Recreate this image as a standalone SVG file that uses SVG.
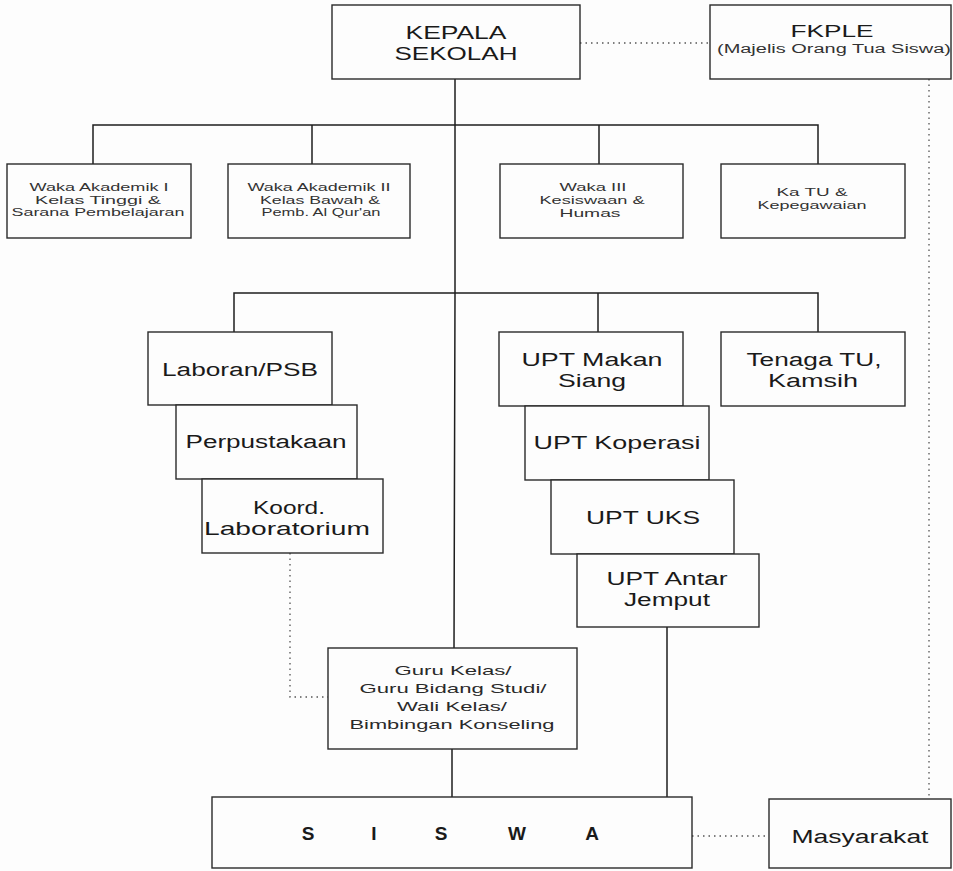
<svg xmlns="http://www.w3.org/2000/svg" width="953" height="871" viewBox="0 0 953 871">
<defs>
<style>
.bg{fill:#fdfdfd}
.box{fill:#fdfdfd;stroke:#2a2a2a;stroke-width:1.4}
.ln{fill:none;stroke:#1e1e1e;stroke-width:1.5}
.dot{fill:none;stroke:#555;stroke-width:1.3;stroke-dasharray:1.5 4}
text{font-family:"Liberation Sans",Arial,sans-serif;fill:#1a1a1a;text-anchor:middle}
.big{font-size:18px}
.fkt{font-size:16px}
.sm{font-size:11px;fill:#333}
.md{font-size:13px;fill:#2a2a2a}
.fk{font-size:12px;fill:#333}
.sis{font-size:19px;font-weight:bold}
</style>
</defs>
<rect class="bg" x="0" y="0" width="953" height="871"/>

<g id="connectors">
<path class="ln" d="M455,79 L455,293 L454,648"/>
<path class="ln" d="M93,164 L93,125 L818,125 L818,164"/>
<path class="ln" d="M312,125 L312,164"/>
<path class="ln" d="M599,125 L599,164"/>
<path class="ln" d="M234,332 L234,293 L818,293 L818,332"/>
<path class="ln" d="M598,293 L598,332"/>
<path class="ln" d="M667,627 L667,797"/>
<path class="ln" d="M452,749 L452,797"/>
<path class="dot" d="M580,43 L710,43"/>
<path class="dot" d="M929,79 L929,799"/>
<path class="dot" d="M290,553 L290,697 L328,697"/>
<path class="dot" d="M692,836 L769,836"/>
</g>

<g id="kepala">
<rect class="box" x="332" y="5" width="248" height="74"/>
<text class="big" x="456" y="38.5" textLength="101" lengthAdjust="spacingAndGlyphs">KEPALA</text>
<text class="big" x="456" y="59.5" textLength="123" lengthAdjust="spacingAndGlyphs">SEKOLAH</text>
</g>

<g id="fkple">
<rect class="box" x="710" y="5" width="241" height="74"/>
<text class="fkt" x="832" y="37" textLength="83" lengthAdjust="spacingAndGlyphs">FKPLE</text>
<text class="fk" x="834" y="53" textLength="234" lengthAdjust="spacingAndGlyphs">(Majelis Orang Tua Siswa)</text>
</g>

<g id="waka1">
<rect class="box" x="7" y="164" width="184" height="74"/>
<text class="sm" x="99" y="191" textLength="139" lengthAdjust="spacingAndGlyphs">Waka Akademik I</text>
<text class="sm" x="98" y="203.5" textLength="126" lengthAdjust="spacingAndGlyphs">Kelas Tinggi &amp;</text>
<text class="sm" x="98" y="216" textLength="173" lengthAdjust="spacingAndGlyphs">Sarana Pembelajaran</text>
</g>

<g id="waka2">
<rect class="box" x="228" y="164" width="182" height="74"/>
<text class="sm" x="319" y="191" textLength="143" lengthAdjust="spacingAndGlyphs">Waka Akademik II</text>
<text class="sm" x="320" y="203.5" textLength="120" lengthAdjust="spacingAndGlyphs">Kelas Bawah &amp;</text>
<text class="sm" x="321" y="216" textLength="119" lengthAdjust="spacingAndGlyphs">Pemb. Al Qur'an</text>
</g>

<g id="waka3">
<rect class="box" x="500" y="164" width="183" height="74"/>
<text class="sm" x="593" y="191" textLength="67" lengthAdjust="spacingAndGlyphs">Waka III</text>
<text class="sm" x="592" y="204" textLength="105" lengthAdjust="spacingAndGlyphs">Kesiswaan &amp;</text>
<text class="sm" x="590" y="217" textLength="61" lengthAdjust="spacingAndGlyphs">Humas</text>
</g>

<g id="katu">
<rect class="box" x="721" y="164" width="184" height="74"/>
<text class="sm" x="812" y="196" textLength="71" lengthAdjust="spacingAndGlyphs">Ka TU &amp;</text>
<text class="sm" x="812" y="208.5" textLength="109" lengthAdjust="spacingAndGlyphs">Kepegawaian</text>
</g>

<g id="laboran">
<rect class="box" x="148" y="332" width="184" height="73"/>
<text class="big" x="240" y="375.5" textLength="156" lengthAdjust="spacingAndGlyphs">Laboran/PSB</text>
</g>

<g id="perpustakaan">
<rect class="box" x="176" y="405" width="181" height="74"/>
<text class="big" x="266" y="448" textLength="161" lengthAdjust="spacingAndGlyphs">Perpustakaan</text>
</g>

<g id="koord">
<rect class="box" x="202" y="479" width="181" height="74"/>
<text class="big" x="289" y="513.5" textLength="72" lengthAdjust="spacingAndGlyphs">Koord.</text>
<text class="big" x="287" y="534.5" textLength="166" lengthAdjust="spacingAndGlyphs">Laboratorium</text>
</g>

<g id="upt-makan">
<rect class="box" x="499" y="332" width="184" height="74"/>
<text class="big" x="592" y="365.5" textLength="141" lengthAdjust="spacingAndGlyphs">UPT Makan</text>
<text class="big" x="592" y="386.5" textLength="68" lengthAdjust="spacingAndGlyphs">Siang</text>
</g>

<g id="tenaga-tu">
<rect class="box" x="721" y="332" width="184" height="74"/>
<text class="big" x="814" y="365.5" textLength="135" lengthAdjust="spacingAndGlyphs">Tenaga TU,</text>
<text class="big" x="813" y="386.5" textLength="90" lengthAdjust="spacingAndGlyphs">Kamsih</text>
</g>

<g id="upt-koperasi">
<rect class="box" x="525" y="406" width="184" height="74"/>
<text class="big" x="617" y="448.5" textLength="167" lengthAdjust="spacingAndGlyphs">UPT Koperasi</text>
</g>

<g id="upt-uks">
<rect class="box" x="551" y="480" width="183" height="74"/>
<text class="big" x="643" y="523.5" textLength="114" lengthAdjust="spacingAndGlyphs">UPT UKS</text>
</g>

<g id="upt-antar">
<rect class="box" x="577" y="554" width="182" height="73"/>
<text class="big" x="667" y="584.5" textLength="121" lengthAdjust="spacingAndGlyphs">UPT Antar</text>
<text class="big" x="667" y="605.5" textLength="86" lengthAdjust="spacingAndGlyphs">Jemput</text>
</g>

<g id="guru">
<rect class="box" x="328" y="648" width="249" height="101"/>
<text class="md" x="453" y="675" textLength="117" lengthAdjust="spacingAndGlyphs">Guru Kelas/</text>
<text class="md" x="453" y="693" textLength="187" lengthAdjust="spacingAndGlyphs">Guru Bidang Studi/</text>
<text class="md" x="452" y="711" textLength="110" lengthAdjust="spacingAndGlyphs">Wali Kelas/</text>
<text class="md" x="452" y="729" textLength="205" lengthAdjust="spacingAndGlyphs">Bimbingan Konseling</text>
</g>

<g id="siswa">
<rect class="box" x="212" y="797" width="480" height="71"/>
<text class="sis" x="308" y="840">S</text>
<text class="sis" x="374" y="840">I</text>
<text class="sis" x="441" y="840">S</text>
<text class="sis" x="517" y="840">W</text>
<text class="sis" x="592" y="840">A</text>
</g>

<g id="masyarakat">
<rect class="box" x="769" y="799" width="182" height="69"/>
<text class="big" x="860" y="842.5" textLength="137" lengthAdjust="spacingAndGlyphs">Masyarakat</text>
</g>
</svg>
